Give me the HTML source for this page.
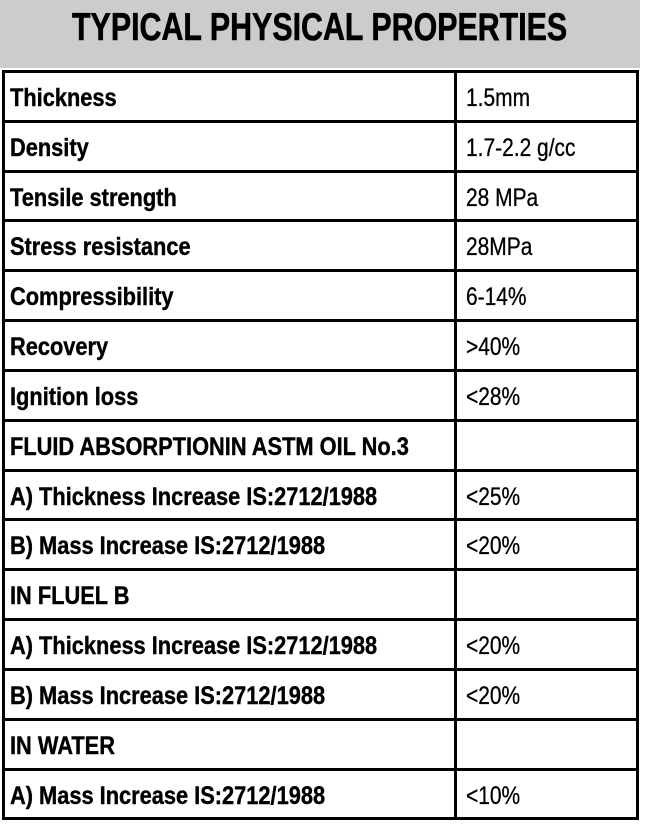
<!DOCTYPE html>
<html>
<head>
<meta charset="utf-8">
<style>
  html,body{margin:0;padding:0;}
  body{width:648px;height:826px;position:relative;overflow:hidden;background:#ffffff;font-family:"Liberation Sans",Arial,sans-serif;}
  .band{position:absolute;left:0;top:0;width:640px;height:68px;background:#cccccc;}
  .title{position:absolute;left:72px;top:6px;font-size:39px;font-weight:bold;color:#000;white-space:nowrap;transform:scaleX(0.779);transform-origin:left top;line-height:normal;-webkit-text-stroke:0.6px #000;}
  .h{position:absolute;left:2px;width:637px;height:3px;background:#000;}
  .v{position:absolute;top:70px;height:750px;width:3px;background:#000;}
  .lab{position:absolute;left:10px;height:47px;line-height:47px;font-size:25px;font-weight:bold;color:#000;white-space:nowrap;transform:scaleX(0.872);transform-origin:left center;-webkit-text-stroke:0.4px #000;margin-top:2px;}
  .val{position:absolute;left:466px;height:47px;line-height:47px;font-size:25px;color:#000;white-space:nowrap;transform:scaleX(0.838);transform-origin:left center;-webkit-text-stroke:0.3px #000;margin-top:2px;}
</style>
</head>
<body>
<div class="band"></div>
<div class="title">TYPICAL PHYSICAL PROPERTIES</div>

<div class="h" style="top:70px"></div>
<div class="h" style="top:120px"></div>
<div class="h" style="top:170px"></div>
<div class="h" style="top:219px"></div>
<div class="h" style="top:269px"></div>
<div class="h" style="top:319px"></div>
<div class="h" style="top:369px"></div>
<div class="h" style="top:419px"></div>
<div class="h" style="top:469px"></div>
<div class="h" style="top:518px"></div>
<div class="h" style="top:568px"></div>
<div class="h" style="top:618px"></div>
<div class="h" style="top:668px"></div>
<div class="h" style="top:718px"></div>
<div class="h" style="top:768px"></div>
<div class="h" style="top:817px"></div>

<div class="v" style="left:2px"></div>
<div class="v" style="left:454px"></div>
<div class="v" style="left:636px"></div>

<div class="lab" style="top:73px">Thickness</div>
<div class="lab" style="top:123px">Density</div>
<div class="lab" style="top:173px">Tensile strength</div>
<div class="lab" style="top:222px">Stress resistance</div>
<div class="lab" style="top:272px">Compressibility</div>
<div class="lab" style="top:322px">Recovery</div>
<div class="lab" style="top:372px">Ignition loss</div>
<div class="lab" style="top:422px">FLUID ABSORPTIONIN ASTM OIL No.3</div>
<div class="lab" style="top:472px">A) Thickness Increase IS:2712/1988</div>
<div class="lab" style="top:521px">B) Mass Increase IS:2712/1988</div>
<div class="lab" style="top:571px">IN FLUEL B</div>
<div class="lab" style="top:621px">A) Thickness Increase IS:2712/1988</div>
<div class="lab" style="top:671px">B) Mass Increase IS:2712/1988</div>
<div class="lab" style="top:721px">IN WATER</div>
<div class="lab" style="top:771px">A) Mass Increase IS:2712/1988</div>

<div class="val" style="top:73px">1.5mm</div>
<div class="val" style="top:123px">1.7-2.2 g/cc</div>
<div class="val" style="top:173px">28 MPa</div>
<div class="val" style="top:222px">28MPa</div>
<div class="val" style="top:272px">6-14%</div>
<div class="val" style="top:322px">&gt;40%</div>
<div class="val" style="top:372px">&lt;28%</div>
<div class="val" style="top:472px">&lt;25%</div>
<div class="val" style="top:521px">&lt;20%</div>
<div class="val" style="top:621px">&lt;20%</div>
<div class="val" style="top:671px">&lt;20%</div>
<div class="val" style="top:771px">&lt;10%</div>
</body>
</html>
